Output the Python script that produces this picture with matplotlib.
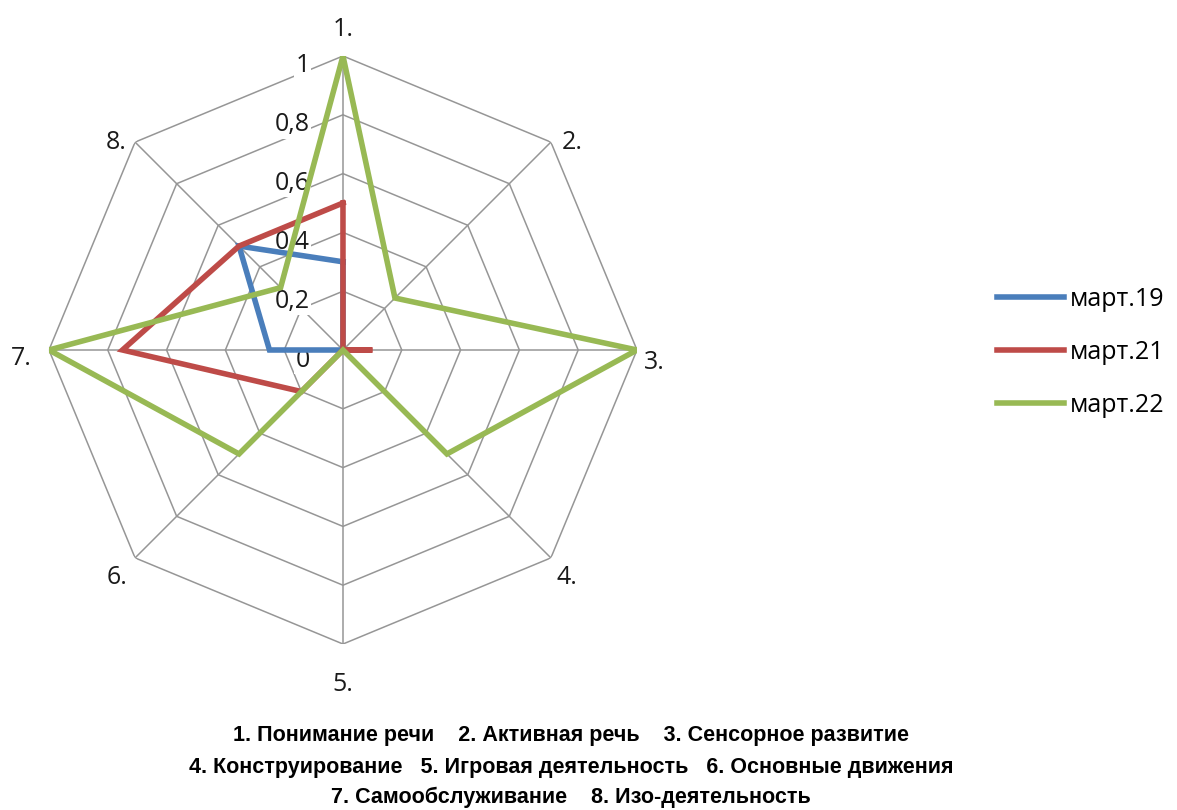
import numpy as np
import matplotlib.pyplot as plt
from matplotlib.lines import Line2D

# axes 1..8, clockwise from top
axis_labels = ['1.', '2.', '3.', '4.', '5.', '6.', '7.', '8.']
mar19 = [0.3, 0, 0, 0, 0, 0, 0.25, 0.5]
mar21 = [0.5, 0, 0.1, 0, 0, 0.2, 0.75, 0.5]
mar22 = [1.0, 0.25, 1.0, 0.5, 0, 0.5, 1.0, 0.3]
series_names = ['март.19', 'март.21', 'март.22']
colors = ['#4a7ebb', '#be4b48', '#98b954']
rings = [0.2, 0.4, 0.6, 0.8, 1.0]
ring_labels = ['0', '0,2', '0,4', '0,6', '0,8', '1']
footer = ['1. Понимание речи    2. Активная речь    3. Сенсорное развитие',
          '4. Конструирование   5. Игровая деятельность   6. Основные движения',
          '7. Самообслуживание    8. Изо-деятельность']

# where excel put the category labels around each vertex (pixels)
lab_off = [(0, 26), (11, 0), (7, -12), (6, -20), (0, -40), (-8, -20), (-17, -8), (-8, 0)]
lab_ha = ['center', 'left', 'left', 'left', 'center', 'right', 'right', 'right']

fig = plt.figure(figsize=(11.77, 8.10), dpi=100)
ax = fig.add_axes([0.0416, 0.2049, 0.4996, 0.726], projection='polar')
ax.set_theta_zero_location('N')
ax.set_theta_direction(-1)
ax.set_ylim(0, 1)
ax.axis('off')

n = len(axis_labels)
ang = np.arange(n) * 2 * np.pi / n
ang_c = np.append(ang, ang[0])

grid_c = '#969696'
for r in rings:
    ax.plot(ang_c, [r] * (n + 1), color=grid_c, lw=1.1, zorder=1)
for a in ang:
    ax.plot([a, a], [0, 1], color=grid_c, lw=1.1, zorder=1)

for vals, c, name in zip([mar19, mar21, mar22], colors, series_names):
    ax.plot(ang_c, list(vals) + [vals[0]], color=c, lw=4, zorder=3,
            solid_joinstyle='miter', label=name)

tick_vals = [0] + rings
for v, t in zip(tick_vals, ring_labels):
    ax.annotate(t, xy=(0, v), xytext=(-33, -10), textcoords='offset pixels',
                ha='right', va='center', fontsize=18, family='Open Sans',
                color='#1a1a1a', zorder=2,
                bbox=dict(boxstyle='square,pad=0.05', fc='white', ec='none'))

for a, lab, off, ha in zip(ang, axis_labels, lab_off, lab_ha):
    ax.annotate(lab, xy=(a, 1), xytext=off, textcoords='offset pixels',
                ha=ha, va='center', fontsize=18, family='Open Sans',
                color='#1a1a1a')

handles = [Line2D([0], [0], color=c, lw=4) for c in colors]
leg = fig.legend(handles, series_names, loc='center left',
                 bbox_to_anchor=(0.847, 0.565), frameon=False,
                 borderaxespad=0, borderpad=0,
                 prop={'family': 'Open Sans', 'size': 18},
                 handlelength=2.7, handletextpad=0.2, labelspacing=1.12)

ys = [0.079, 0.039, 0.002]
for y, line in zip(ys, footer):
    fig.text(0.485, y, line, ha='center', va='bottom', fontsize=15.5,
             fontweight='bold', family=['Liberation Sans', 'DejaVu Sans'])

fig.savefig('out.png', dpi=100, facecolor='white')
